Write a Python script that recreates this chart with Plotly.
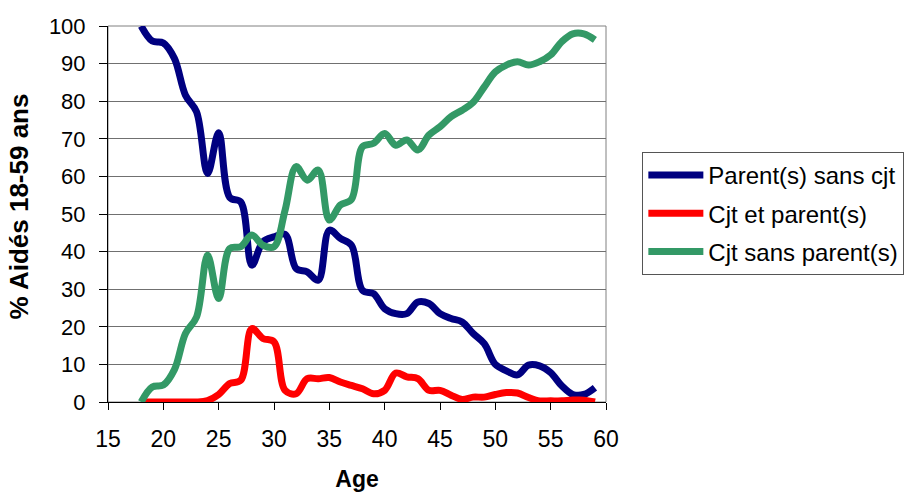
import plotly.graph_objects as go

# Age (years) and share of helped people 18-59 (%) by household situation
ages = list(range(18, 60))

parents_sans_cjt = [
    100, 96, 95.5, 91.4, 81.6, 77.2, 60.8, 71.6, 54.4, 53.2,
    36.4, 42.6, 43.9, 44.6, 35.5, 34.6, 32.4, 45.7, 43.5, 41.7,
    29.7, 28.8, 24.8, 23.5, 23.5, 26.6, 26.2, 23.5, 22.2, 21.3,
    18.2, 15.5, 10.0, 8.3, 7.2, 9.8, 9.6, 7.8, 4.3, 2.0,
    2.0, 3.8,
]

cjt_et_parents = [
    0, 0, 0, 0, 0, 0, 0.4, 2.0, 4.9, 5.8,
    19.5, 16.9, 16.0, 3.1, 2.2, 6.2, 6.2, 6.5, 5.3, 4.4,
    3.5, 2.2, 3.1, 7.7, 6.7, 6.2, 3.1, 3.1, 1.8, 0.7,
    1.3, 1.3, 2.0, 2.5, 2.4, 1.2, 0.3, 0.3, 0.3, 0.5,
    0.5, 0,
]

cjt_sans_parents = [
    0, 4.0, 4.5, 8.6, 18.2, 22.6, 39.0, 27.5, 40.8, 41.3,
    44.4, 41.7, 41.3, 51.0, 62.6, 59.0, 61.7, 48.4, 52.4, 53.9,
    67.9, 68.8, 71.4, 68.3, 69.7, 67.0, 71.0, 73.2, 75.9, 77.6,
    79.7, 83.8, 87.8, 89.6, 90.5, 89.6, 90.5, 92.3, 95.8, 97.9,
    97.9, 96.3,
]

y_ticks = list(range(0, 101, 10))
x_ticks = list(range(15, 61, 5))

series = [
    ("Parent(s) sans cjt", parents_sans_cjt, "#000080"),
    ("Cjt et parent(s)", cjt_et_parents, "#FF0000"),
    ("Cjt sans parent(s)", cjt_sans_parents, "#339966"),
]

FONT = "Liberation Sans, Arial, sans-serif"

fig = go.Figure()
for i, (name, vals, color) in enumerate(series):
    fig.add_trace(go.Scatter(
        x=ages, y=vals, name=name, mode="lines",
        line=dict(color=color, width=7, shape="spline", smoothing=1.0),
        legendgroup=f"g{i}",
    ))

fig.update_layout(
    width=907, height=492,
    margin=dict(l=108, r=301, t=26, b=90, pad=0, autoexpand=False),
    paper_bgcolor="white", plot_bgcolor="white",
    font=dict(family=FONT, size=22, color="black"),
    showlegend=True,
    legend=dict(
        x=1.073, y=0.665, xanchor="left", yanchor="top",
        bgcolor="white", bordercolor="#555555", borderwidth=1,
        font=dict(family=FONT, size=24, color="black"),
        tracegroupgap=4, itemwidth=55,
    ),
    shapes=[dict(
        type="rect", xref="paper", yref="paper", x0=0, y0=0, x1=1, y1=1,
        line=dict(color="#808080", width=1), layer="below",
    )],
    annotations=[dict(
        text="<b>% Aidés 18-59 ans</b>", textangle=-90,
        xref="paper", yref="paper", x=-0.178, y=0.521,
        xanchor="center", yanchor="middle", showarrow=False,
        font=dict(family=FONT, size=26, color="black"),
    )],
)

fig.update_xaxes(
    range=[15, 60], tickvals=x_ticks, ticktext=[str(v) for v in x_ticks],
    ticks="outside", ticklen=7, tickcolor="black", tickwidth=1,
    showline=True, linecolor="black", linewidth=1,
    showgrid=False, zeroline=False, automargin=False,
    tickfont=dict(size=23), ticklabelstandoff=9,
    title=dict(text="<b>Age</b>", font=dict(size=23), standoff=22),
)
fig.update_yaxes(
    range=[0, 100], tickvals=y_ticks, ticktext=[str(v) for v in y_ticks],
    ticks="outside", ticklen=8, tickcolor="black", tickwidth=1,
    showline=True, linecolor="black", linewidth=1,
    showgrid=True, gridcolor="#707070", gridwidth=1, zeroline=False,
    automargin=False,
    tickfont=dict(size=22), ticklabelstandoff=9,
)

fig.write_html("out.html")
